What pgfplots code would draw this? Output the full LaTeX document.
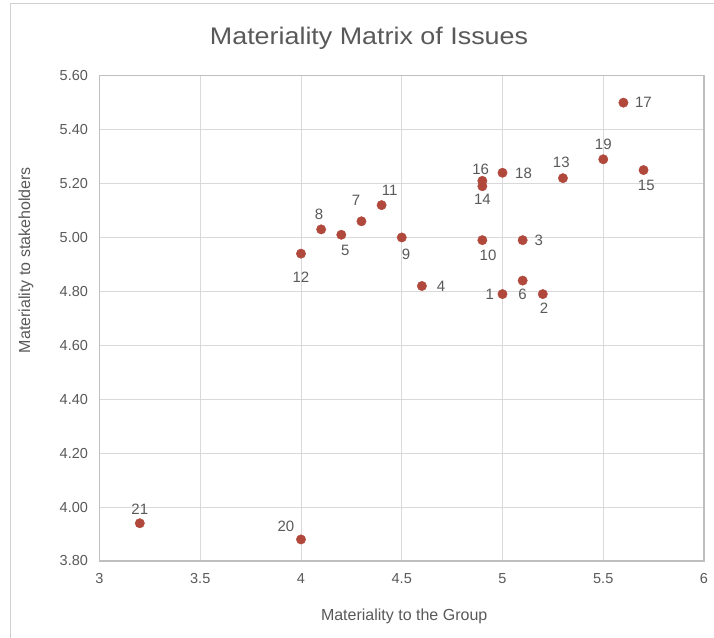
\documentclass[border=0pt]{standalone}
\usepackage{pgfplots}
\pgfplotsset{compat=1.18}
\usepackage{pgfplotstable}
\usepackage{fontspec}
\setmainfont{Liberation Sans}
\newfontfamily\titlefont[FakeStretch=1.12]{Liberation Sans}
\definecolor{txt}{HTML}{595959}
\definecolor{gridc}{HTML}{D9D9D9}
\definecolor{axc}{HTML}{BFBFBF}
\definecolor{bordc}{HTML}{D0D0D0}
\definecolor{pt}{HTML}{B0483C}

\pgfplotstableread{
x y lab dx dy
5.0 4.79 1 -12.8 0
5.2 4.79 2 1.3 -14.4
5.1 4.99 3 16.2 0
4.6 4.82 4 19.1 0
4.2 5.01 5 4 -16
5.1 4.84 6 0 -13.3
4.3 5.06 7 -5.3 20.8
4.1 5.03 8 -2 14.7
4.5 5.00 9 4.3 -17.3
4.9 4.99 10 5.7 -15.3
4.4 5.12 11 8 14.5
4.0 4.94 12 0 -23.7
5.3 5.22 13 -1.7 15.6
4.9 5.19 14 0 -13
5.7 5.25 15 2.7 -15.6
4.9 5.21 16 -1.7 12
5.6 5.50 17 20 0
5.0 5.24 18 21 -1
5.5 5.29 19 0 14.7
4.0 3.88 20 -15 13
3.2 3.94 21 0 14.2
}\datatable

\begin{document}
\begin{tikzpicture}
\useasboundingbox (-99.5pt,-76pt) rectangle (614.5pt,561pt);
\draw[bordc, line width=1pt] (-88.5pt,-90pt) -- (-88.5pt,557pt) -- (630pt,557pt);
\begin{axis}[
  at={(0,0)}, anchor=south west,
  scale only axis, width=604.5pt, height=485.3pt,
  xmin=3, xmax=6, ymin=3.8, ymax=5.6,
  xtick={3,3.5,4,4.5,5,5.5,6},
  ytick={3.8,4.0,4.2,4.4,4.6,4.8,5.0,5.2,5.4,5.6},
  /pgf/number format/assume math mode=true,
  ticklabel style={font=\fontsize{14.5}{17}\selectfont, text=txt},
  yticklabel style={xshift=-8pt, /pgf/number format/.cd, fixed, fixed zerofill, precision=2},
  xticklabel style={yshift=-9pt, /pgf/number format/.cd, fixed},
  grid=major,
  major grid style={draw=gridc, line width=0.9pt},
  axis line style={draw=axc, line width=1.1pt},
  major tick length=0pt,
  tick style={draw=none},
  xlabel={Materiality to the Group},
  ylabel={Materiality to stakeholders},
  label style={font=\fontsize{16}{19}\selectfont, text=txt},
  x label style={at={(axis description cs:0.504,-0.1133)}, anchor=center},
  y label style={at={(axis description cs:-0.1216,0.620)}, anchor=center},
  clip=false,
]
\addplot[only marks, mark=*, mark size=4.7pt, color=pt,
  mark options={fill=pt, draw=pt},
  nodes near coords, point meta=explicit symbolic,
  visualization depends on={\thisrow{dx} \as \dx},
  visualization depends on={\thisrow{dy} \as \dy},
  every node near coord/.append style={anchor=center, inner sep=0pt,
     xshift=\dx pt, yshift=\dy pt, text=txt, font=\fontsize{15}{17}\selectfont}]
  table[x=x, y=y, meta=lab] {\datatable};
\end{axis}
\node[text=txt, font=\titlefont\fontsize{24}{28}\selectfont] at (269.5pt,523pt) {Materiality Matrix of Issues};
\end{tikzpicture}
\end{document}
